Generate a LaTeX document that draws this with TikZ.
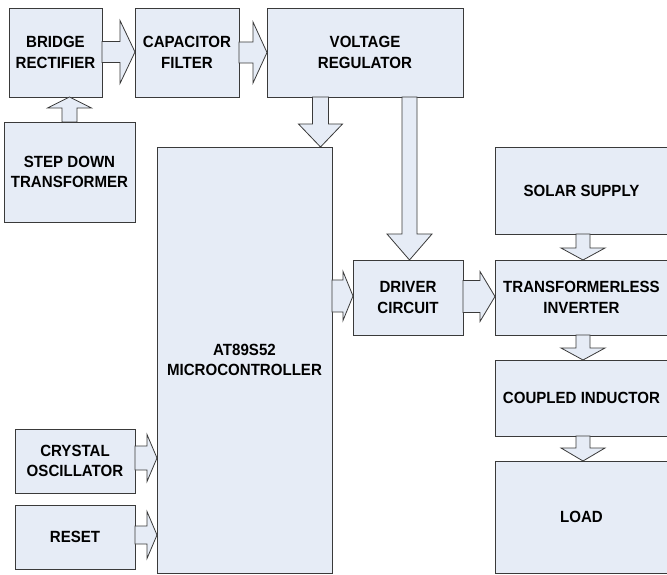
\documentclass[tikz,border=0pt]{standalone}
\usepackage{fontspec}
\setmainfont{Liberation Sans}
\newfontfamily\blkfont[FakeStretch=0.93]{Liberation Sans}
\usetikzlibrary{calc}
\definecolor{boxfill}{HTML}{E6ECF6}
\definecolor{boxline}{HTML}{3A3A3A}
\tikzset{
  blk/.style={draw=boxline, fill=boxfill, line width=0.9pt, align=center,
    font=\blkfont\fontsize{16.2}{20.8}\selectfont\bfseries, inner sep=0pt, outer sep=0pt},
  arr/.style={draw=boxline, fill=boxfill, line width=0.8pt, line join=miter}
}
% right arrow: from, to, Ycenter, shaft half, head half, head length
\newcommand\arrR[6]{\draw[arr] let \p1=(#1.east),\p2=(#2.west) in
  (\x1,{(#3+#4)*1pt}) -- ({\x2-#6*1pt},{(#3+#4)*1pt}) -- ({\x2-#6*1pt},{(#3+#5)*1pt})
  -- (\x2,{#3*1pt}) -- ({\x2-#6*1pt},{(#3-#5)*1pt}) -- ({\x2-#6*1pt},{(#3-#4)*1pt})
  -- (\x1,{(#3-#4)*1pt}) -- cycle;}
% down arrow: from, to, Xcenter, shaft half, head half, head length
\newcommand\arrD[6]{\draw[arr] let \p1=(#1.south),\p2=(#2.north) in
  ({(#3-#4)*1pt},\y1) -- ({(#3-#4)*1pt},{\y2+#6*1pt}) -- ({(#3-#5)*1pt},{\y2+#6*1pt})
  -- ({#3*1pt},\y2) -- ({(#3+#5)*1pt},{\y2+#6*1pt}) -- ({(#3+#4)*1pt},{\y2+#6*1pt})
  -- ({(#3+#4)*1pt},\y1) -- cycle;}
% up arrow: from, to, Xcenter, shaft half, head half, head length
\newcommand\arrU[6]{\draw[arr] let \p1=(#1.north),\p2=(#2.south) in
  ({(#3-#4)*1pt},\y1) -- ({(#3-#4)*1pt},{\y2-#6*1pt}) -- ({(#3-#5)*1pt},{\y2-#6*1pt})
  -- ({#3*1pt},\y2) -- ({(#3+#5)*1pt},{\y2-#6*1pt}) -- ({(#3+#4)*1pt},{\y2-#6*1pt})
  -- ({(#3+#4)*1pt},\y1) -- cycle;}
\begin{document}
\begin{tikzpicture}[x=1pt,y=1pt]
\useasboundingbox (0,0) rectangle (667,574);
% boxes
\node[blk, minimum width=93pt, minimum height=89pt] (br) at (55.5,521.5) {BRIDGE\\RECTIFIER};
\node[blk, minimum width=104pt, minimum height=89pt] (cf) at (187,521.5) {CAPACITOR\\FILTER};
\node[blk, minimum width=196pt, minimum height=89pt] (vr) at (365,521.5) {VOLTAGE\\REGULATOR};
\node[blk, minimum width=131pt, minimum height=100pt] (sd) at (69.5,402) {STEP DOWN\\TRANSFORMER};
\node[blk, minimum width=175pt, minimum height=426pt] (mc) at (244.5,214) {AT89S52\\MICROCONTROLLER};
\node[blk, minimum width=110pt, minimum height=75pt] (dc) at (408,276.5) {DRIVER\\CIRCUIT};
\node[blk, minimum width=173pt, minimum height=87pt] (ss) at (581.5,383.5) {SOLAR SUPPLY};
\node[blk, minimum width=173pt, minimum height=75pt] (ti) at (581.5,276.5) {TRANSFORMERLESS\\INVERTER};
\node[blk, minimum width=173pt, minimum height=76pt] (ci) at (581.5,176) {COUPLED INDUCTOR};
\node[blk, minimum width=173pt, minimum height=112pt] (ld) at (581.5,57) {LOAD};
\node[blk, minimum width=120pt, minimum height=64pt] (co) at (75,113) {CRYSTAL\\OSCILLATOR};
\node[blk, minimum width=120pt, minimum height=64pt] (rs) at (75,37) {RESET};
% arrows
\arrR{br}{cf}{522}{10.5}{31.5}{15}
\arrR{cf}{vr}{521.5}{10.5}{30.5}{14}
\arrU{sd}{br}{69.5}{7.5}{22}{11}
\arrD{vr}{mc}{320.5}{8}{22}{23}
\arrD{vr}{dc}{409.5}{7.5}{22.5}{26}
\arrR{mc}{dc}{278}{16}{24.5}{10}
\arrR{dc}{ti}{277.5}{16}{25}{15}
\arrD{ss}{ti}{583}{7}{22}{12}
\arrD{ti}{ci}{583}{7}{22}{12}
\arrD{ci}{ld}{583}{7}{22}{13}
\arrR{co}{mc}{116}{12}{23.5}{10}
\arrR{rs}{mc}{39}{9}{23.5}{10}
\end{tikzpicture}
\end{document}
